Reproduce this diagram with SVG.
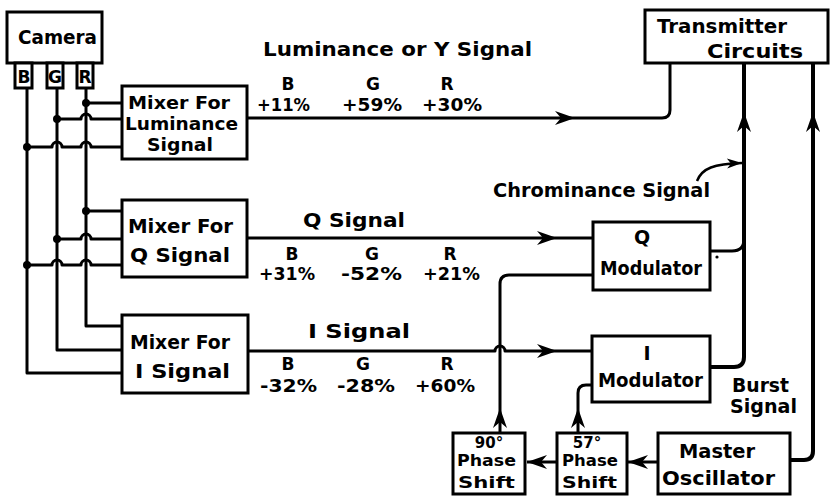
<svg xmlns="http://www.w3.org/2000/svg" width="833" height="497" viewBox="0 0 833 497">
<defs>
<style>
.box{fill:#fff;stroke:#000;stroke-width:3}
.ln{fill:none;stroke:#000;stroke-width:3;stroke-linecap:butt;stroke-linejoin:round}
.th{stroke-width:4}
text{font-family:"DejaVu Sans","Liberation Sans",sans-serif;font-weight:bold;fill:#000}
.t20{font-size:19px}
.t17{font-size:17px}
.t18{font-size:17px}
.t16{font-size:15px}
.c{text-anchor:middle}
</style>
<marker id="ah" markerUnits="userSpaceOnUse" markerWidth="24" markerHeight="18" viewBox="-22 -9 24 18" refX="0" refY="0" orient="auto">
<path d="M0,0 L-20,-7 L-14,0 L-20,7 Z" fill="#000"/>
</marker>
<marker id="ahs" markerUnits="userSpaceOnUse" markerWidth="18" markerHeight="12" viewBox="-16 -6 18 12" refX="0" refY="0" orient="auto">
<path d="M0,0 L-15,-5 L-11,0 L-15,5 Z" fill="#000"/>
</marker>
</defs>
<rect width="833" height="497" fill="#fff"/>

<g id="connectors">
<path class="ln" d="M86,88 V326 H122"/>
<path class="ln" d="M86,103 H122"/>
<path class="ln" d="M86,211 H122"/>
<path class="ln" d="M57,88 V350 H122"/>
<path class="ln" d="M57,119 H81 a5,5 0 0 1 10,0 H122"/>
<path class="ln" d="M57,239 H81 a5,5 0 0 1 10,0 H122"/>
<path class="ln" d="M27,88 V373 H122"/>
<path class="ln" d="M27,147 H52 a5,5 0 0 1 10,0 H81 a5,5 0 0 1 10,0 H122"/>
<path class="ln" d="M27,265 H52 a5,5 0 0 1 10,0 H81 a5,5 0 0 1 10,0 H122"/>
<circle cx="86" cy="103" r="4"/>
<circle cx="57" cy="119" r="4"/>
<circle cx="27" cy="147" r="4"/>
<circle cx="86" cy="211" r="4"/>
<circle cx="57" cy="239" r="4"/>
<circle cx="27" cy="265" r="4"/>

<path class="ln" d="M247,118 H575" marker-end="url(#ah)"/>
<path class="ln" d="M575,118 H662 Q670,118 670,110 V63"/>
<path class="ln" d="M247,238 H557" marker-end="url(#ah)"/>
<path class="ln" d="M557,238 H593"/>
<path class="ln" d="M248,351 H495 a5,5 0 0 1 10,0 H557" marker-end="url(#ah)"/>
<path class="ln" d="M557,351 H592"/>
<path class="ln" d="M500,433 V408" marker-end="url(#ah)"/>
<path class="ln" d="M500,408 V284 Q500,275 509,275 H593"/>
<path class="ln" d="M578,433 V408" marker-end="url(#ah)"/>
<path class="ln" d="M578,408 V393 Q578,385 586,385 H592"/>
<path class="ln" d="M658,462 H628" marker-end="url(#ah)"/>
<path class="ln" d="M557,462 H527" marker-end="url(#ah)"/>
<path class="ln" d="M710,251 H732 Q744,251 744,239"/>
<path class="ln th" d="M710,367 H734 Q744,367 744,357 V112" marker-end="url(#ah)"/>
<path class="ln th" d="M744,112 V63"/>
<path class="ln th" d="M790,460 H804 Q813,460 813,451 V112" marker-end="url(#ah)"/>
<path class="ln th" d="M813,112 V63"/>
<path class="ln" style="stroke-width:2.5" d="M697,181 C702,168 714,164 742,163" marker-end="url(#ahs)"/>
<circle cx="717" cy="257" r="1.6"/>
</g>

<g id="camera">
<rect class="box" x="7" y="12" width="95" height="51"/>
<text class="t20" x="18" y="44" textLength="79" lengthAdjust="spacingAndGlyphs">Camera</text>
</g>
<g id="port-b">
<rect class="box" x="15" y="63" width="17" height="25"/>
<text class="t18 c" x="24" y="83">B</text>
</g>
<g id="port-g">
<rect class="box" x="47" y="63" width="16" height="25"/>
<text class="t18 c" x="55" y="83">G</text>
</g>
<g id="port-r">
<rect class="box" x="77" y="63" width="16" height="25"/>
<text class="t18 c" x="85" y="83">R</text>
</g>

<g id="mixer-luminance">
<rect class="box" x="122" y="86" width="125" height="73"/>
<text class="t17" x="128" y="109" textLength="102" lengthAdjust="spacingAndGlyphs">Mixer For</text>
<text class="t17" x="125" y="130" textLength="113" lengthAdjust="spacingAndGlyphs">Luminance</text>
<text class="t17" x="147" y="151" textLength="66" lengthAdjust="spacingAndGlyphs">Signal</text>
</g>
<g id="mixer-q">
<rect class="box" x="122" y="200" width="125" height="77"/>
<text class="t20" x="128" y="233" textLength="105" lengthAdjust="spacingAndGlyphs">Mixer For</text>
<text class="t20" x="130" y="262" textLength="100" lengthAdjust="spacingAndGlyphs">Q Signal</text>
</g>
<g id="mixer-i">
<rect class="box" x="122" y="315" width="126" height="78"/>
<text class="t20" x="130" y="349" textLength="100" lengthAdjust="spacingAndGlyphs">Mixer For</text>
<text class="t20" x="135" y="378" textLength="95" lengthAdjust="spacingAndGlyphs">I Signal</text>
</g>

<g id="labels-luminance">
<text class="t20" x="263" y="56" textLength="269" lengthAdjust="spacingAndGlyphs">Luminance or Y Signal</text>
<text class="t18 c" x="288" y="90">B</text>
<text class="t18 c" x="373" y="90">G</text>
<text class="t18 c" x="447" y="90">R</text>
<text class="t18" x="257" y="111" textLength="53" lengthAdjust="spacingAndGlyphs">+11%</text>
<text class="t18" x="342" y="111" textLength="60" lengthAdjust="spacingAndGlyphs">+59%</text>
<text class="t18" x="422" y="111" textLength="60" lengthAdjust="spacingAndGlyphs">+30%</text>
</g>
<g id="labels-q">
<text class="t20" x="303" y="227" textLength="102" lengthAdjust="spacingAndGlyphs">Q Signal</text>
<text class="t18 c" x="292" y="260">B</text>
<text class="t18 c" x="372" y="260">G</text>
<text class="t18 c" x="450" y="260">R</text>
<text class="t18" x="259" y="280" textLength="56" lengthAdjust="spacingAndGlyphs">+31%</text>
<text class="t18" x="341" y="280" textLength="61" lengthAdjust="spacingAndGlyphs">-52%</text>
<text class="t18" x="423" y="280" textLength="57" lengthAdjust="spacingAndGlyphs">+21%</text>
</g>
<g id="labels-i">
<text class="t20" x="308" y="338" textLength="102" lengthAdjust="spacingAndGlyphs">I Signal</text>
<text class="t18 c" x="288" y="370">B</text>
<text class="t18 c" x="363" y="370">G</text>
<text class="t18 c" x="447" y="370">R</text>
<text class="t18" x="260" y="392" textLength="57" lengthAdjust="spacingAndGlyphs">-32%</text>
<text class="t18" x="337" y="392" textLength="58" lengthAdjust="spacingAndGlyphs">-28%</text>
<text class="t18" x="415" y="392" textLength="60" lengthAdjust="spacingAndGlyphs">+60%</text>
</g>
<g id="label-chrominance">
<text class="t20" x="493" y="197" textLength="217" lengthAdjust="spacingAndGlyphs">Chrominance Signal</text>
</g>
<g id="label-burst">
<text class="t20" x="732" y="392" textLength="57" lengthAdjust="spacingAndGlyphs">Burst</text>
<text class="t20" x="730" y="413" textLength="67" lengthAdjust="spacingAndGlyphs">Signal</text>
</g>

<g id="transmitter">
<rect class="box" x="645" y="10" width="183" height="53"/>
<text class="t20" x="657" y="33" textLength="130" lengthAdjust="spacingAndGlyphs">Transmitter</text>
<text class="t20" x="707" y="58" textLength="96" lengthAdjust="spacingAndGlyphs">Circuits</text>
</g>
<g id="q-modulator">
<rect class="box" x="593" y="222" width="117" height="68"/>
<text class="t20 c" x="642" y="244">Q</text>
<text class="t20" x="600" y="275" textLength="102" lengthAdjust="spacingAndGlyphs">Modulator</text>
</g>
<g id="i-modulator">
<rect class="box" x="592" y="336" width="118" height="66"/>
<text class="t20 c" x="647" y="360">I</text>
<text class="t20" x="598" y="387" textLength="105" lengthAdjust="spacingAndGlyphs">Modulator</text>
</g>
<g id="phase-90">
<rect class="box" x="453" y="433" width="72" height="61"/>
<text class="t16 c" x="489" y="448">90°</text>
<text class="t16" x="457" y="466" textLength="59" lengthAdjust="spacingAndGlyphs">Phase</text>
<text class="t16" x="458" y="488" textLength="57" lengthAdjust="spacingAndGlyphs">Shift</text>
</g>
<g id="phase-57">
<rect class="box" x="557" y="433" width="70" height="61"/>
<text class="t16 c" x="587" y="448">57°</text>
<text class="t16" x="562" y="466" textLength="56" lengthAdjust="spacingAndGlyphs">Phase</text>
<text class="t16" x="562" y="488" textLength="55" lengthAdjust="spacingAndGlyphs">Shift</text>
</g>
<g id="master-oscillator">
<rect class="box" x="658" y="433" width="132" height="61"/>
<text class="t20" x="679" y="458" textLength="76" lengthAdjust="spacingAndGlyphs">Master</text>
<text class="t20" x="662" y="485" textLength="113" lengthAdjust="spacingAndGlyphs">Oscillator</text>
</g>
</svg>
